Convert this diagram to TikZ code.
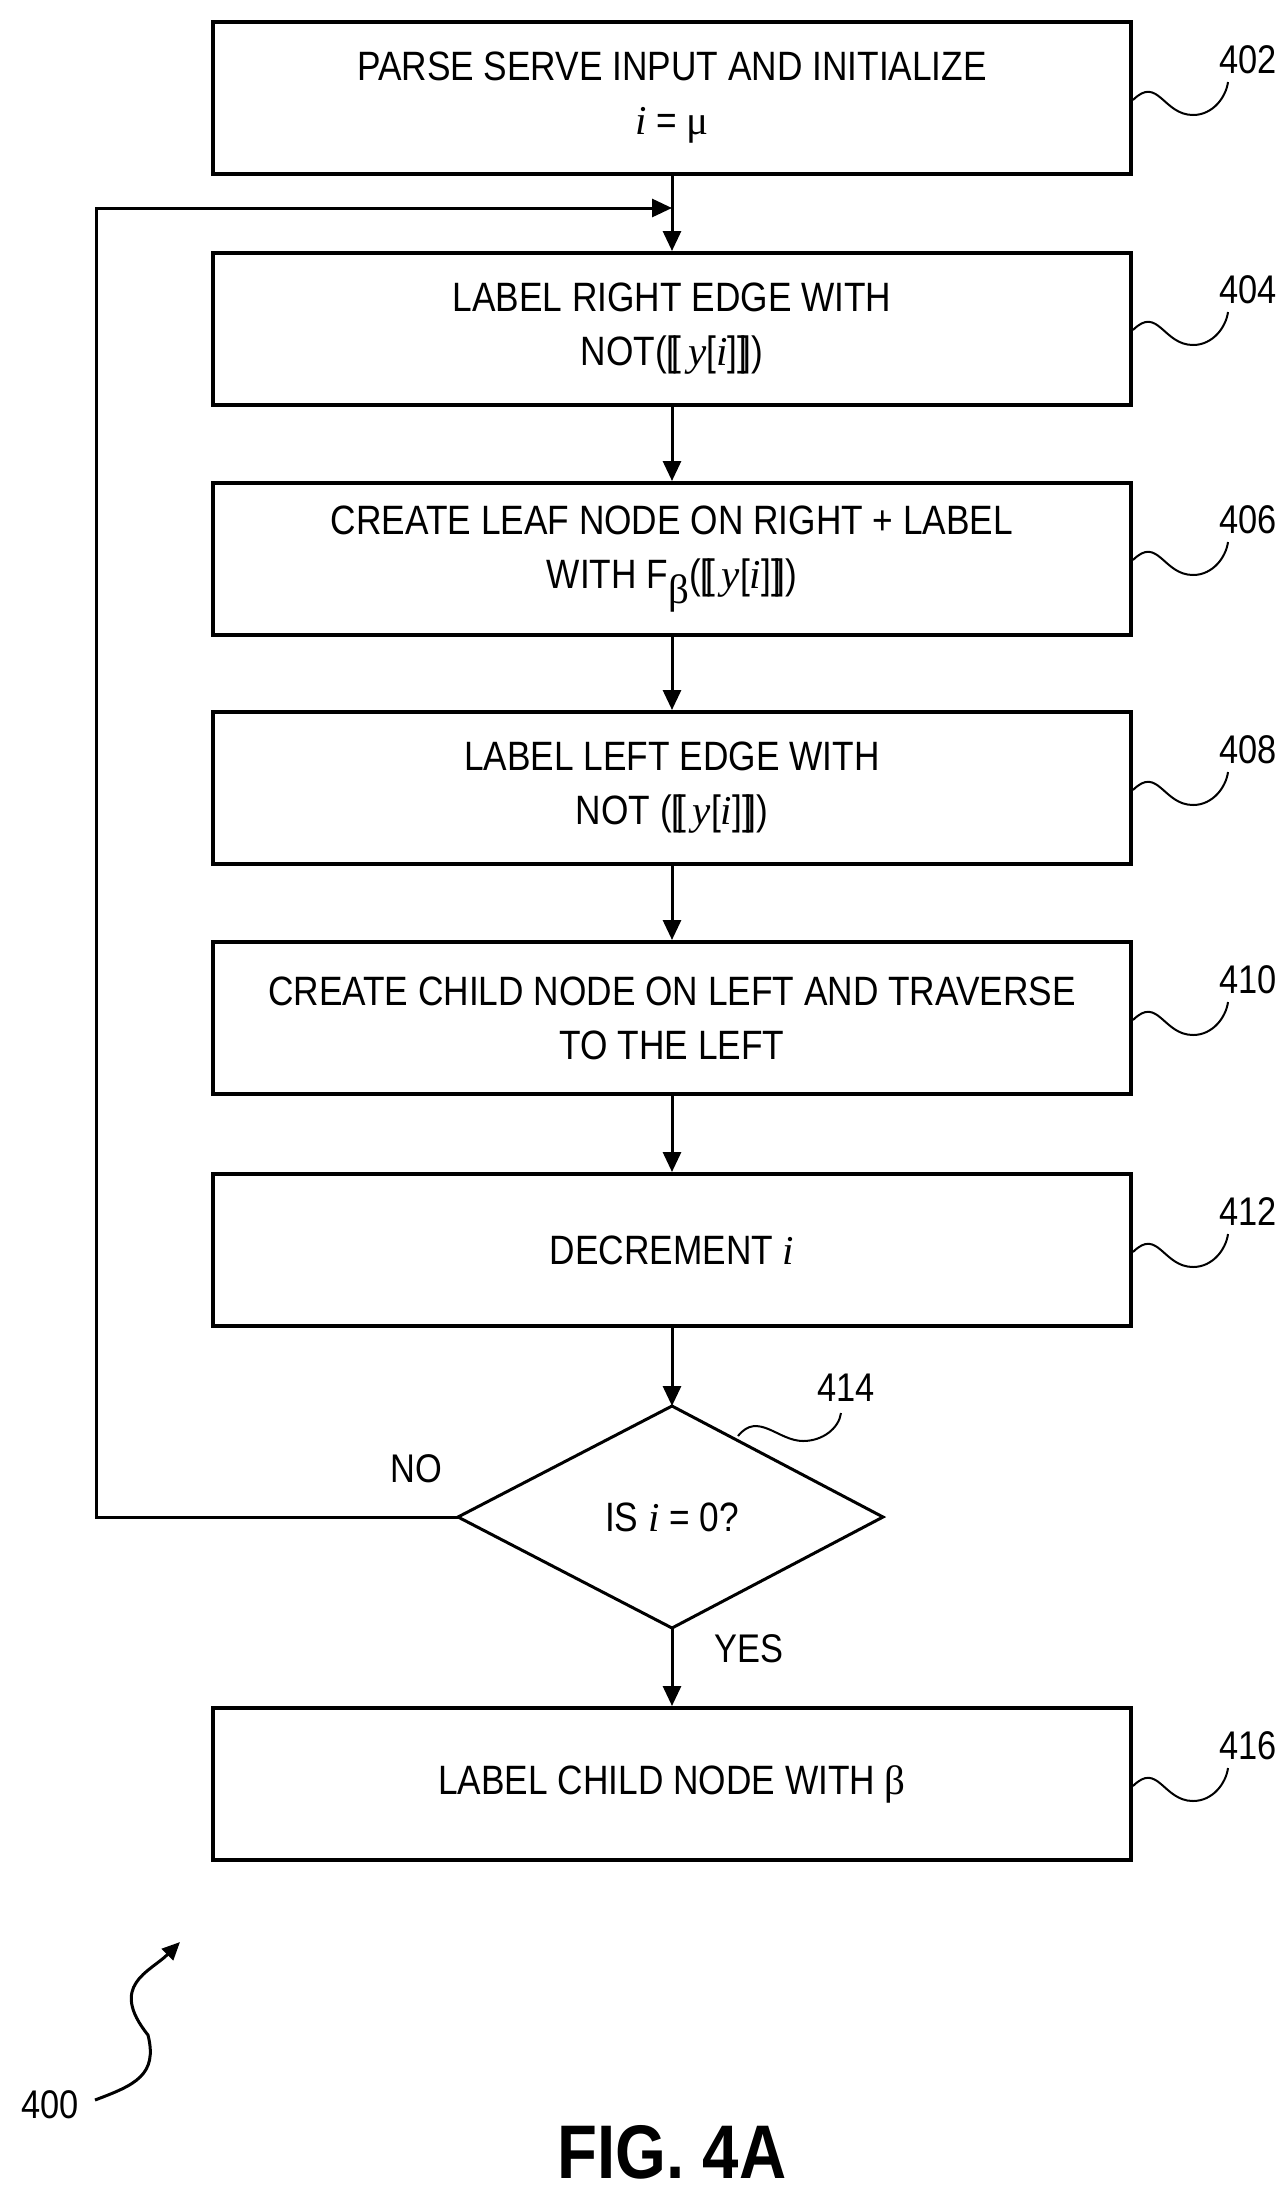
\documentclass[tikz,border=0pt]{standalone}
\usepackage{fontspec}
\setmainfont[FakeStretch=0.86]{Liberation Sans}
\newfontfamily\ser{Liberation Serif}
\usetikzlibrary{shapes.geometric,arrows.meta}
\newcommand{\ii}{{\ser\itshape i}}
\newcommand{\yy}{{\ser\itshape y}}
\newcommand{\lbb}{[\kern-0.13em[\,}
\newcommand{\rbb}{]\kern-0.13em]}
\begin{document}
\begin{tikzpicture}[x=0.5pt,y=-0.5pt,
  box/.style={draw,line width=2pt,minimum width=459pt,minimum height=76pt,inner sep=0pt,align=center,font=\fontsize{20.5}{27}\selectfont},
  arr/.style={line width=1.5pt,-{Triangle[length=10pt,width=9pt]}},
  ref/.style={font=\fontsize{20}{24}\selectfont},
  sq/.style={line width=1pt}]
\useasboundingbox (0,0) rectangle (1285,2196);
\node[box] (b402) at (672,98) {PARSE SERVE INPUT AND INITIALIZE\\ \ii\ = {\ser μ}};
\node[box] (b404) at (672,329) {LABEL RIGHT EDGE WITH\\ NOT(\lbb\yy[\ii]\rbb)};
\node[box] (b406) at (672,559) {CREATE LEAF NODE ON RIGHT + LABEL\\ WITH F\raisebox{-0.35em}{\ser β}(\lbb\yy[\ii]\rbb)};
\node[box] (b408) at (672,788) {LABEL LEFT EDGE WITH\\ NOT (\lbb\yy[\ii]\rbb)};
\node[box] (b410) at (672,1018) {CREATE CHILD NODE ON LEFT AND TRAVERSE\\ TO THE LEFT};
\node[box] (b412) at (672,1250) {DECREMENT \ii};
\coordinate (dt) at (672,1406);
\coordinate (dr) at (883,1517);
\coordinate (db) at (672,1628);
\coordinate (dl) at (458,1517);
\draw[line width=1.5pt,line join=miter] (dt) -- (dr) -- (db) -- (dl) -- cycle;
\node[font=\fontsize{20.5}{24}\selectfont] (d414) at (672,1517) {IS \ii\ = 0?};
\node[box] (b416) at (672,1784) {LABEL CHILD NODE WITH {\ser β}};
\coordinate (m) at (672,208);
\coordinate (c1) at (96,208);
\coordinate (c2) at (96,1517);
\draw[line width=1.5pt] (b402.south) -- (m);
\draw[arr] (m) -- (b404.north);
\draw[arr] (b404) -- (b406);
\draw[arr] (b406) -- (b408);
\draw[arr] (b408) -- (b410);
\draw[arr] (b410) -- (b412);
\draw[arr] (b412) -- (dt);
\draw[arr] (db) -- (b416.north);
\draw[arr] (dl) -- (c2) -- (c1) -- (m);
\node[ref] (no) at (416,1469) {NO};
\node[ref] (yes) at (749,1649) {YES};
\foreach \n/\y in {402/60,404/290,406/520,408/750,410/980,412/1212,416/1746}{
  \node[ref] (r\n) at (1248,\y) {\n};
  \draw[sq] (b\n.east |- 0,\y+40) .. controls +(25,-25) and +(-30,0) .. +(60,15) .. controls +(20,0) and +(-2,15) .. +(95,-18);
}
\node[ref] (r414) at (846,1388) {414};
\coordinate (s414) at (738,1436);
\draw[sq] (s414) .. controls +(20,-25) and +(-25,0) .. +(65,5) .. controls +(20,0) and +(-2,15) .. +(103,-23);
\node[ref] (r400) at (50,2105) {400};
\coordinate (a0) at (95,2100);
\coordinate (a1) at (180,1942);
\draw[sq,line width=1.5pt,-{Triangle[length=9pt,width=8pt]}] (a0) .. controls +(40,-15) and +(10,40) .. (148,2035) .. controls +(-40,-50) and +(-30,30) .. (a1);
\node[font=\bfseries\fontsize{38}{40}\selectfont] (fig) at (672,2152) {FIG. 4A};
\end{tikzpicture}
\end{document}
